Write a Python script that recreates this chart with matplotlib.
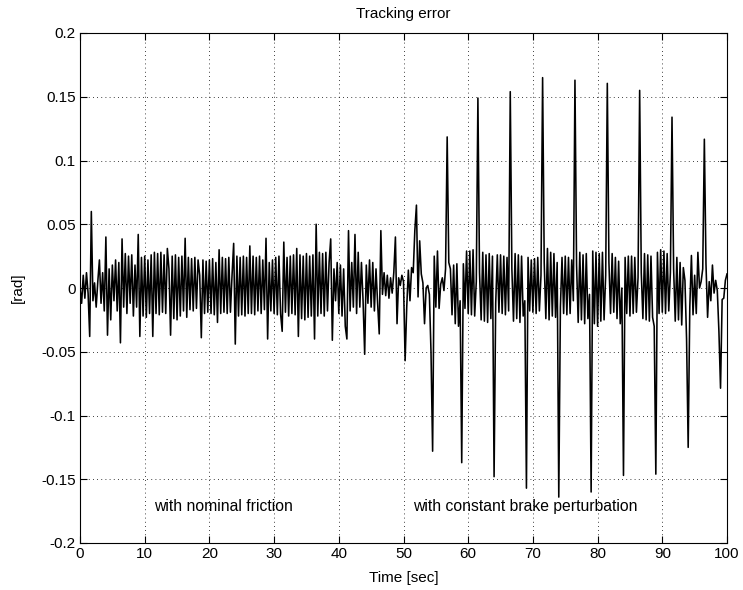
import numpy as np
import matplotlib
matplotlib.use("Agg")
import matplotlib.pyplot as plt
from matplotlib.ticker import FuncFormatter

# sample period of the recorded signal [sec]
dt = 0.25

# tracking error [rad], read block by block (5 s per row)
err_0_50 = [
    0.000, -0.012, 0.010, -0.008, 0.012, -0.004, -0.038, 0.060, -0.010, 0.004,
    -0.015, 0.005, 0.022, -0.012, 0.012, -0.018, 0.040, -0.037, 0.015, -0.025,
    0.018, -0.010, 0.022, -0.018, 0.020, -0.043, 0.0385, -0.015, 0.027, -0.020,
    0.025, -0.012, 0.026, -0.022, 0.018, -0.015, 0.042, -0.038, 0.024, -0.022,
    0.025, -0.023, 0.022, -0.020, 0.026, -0.038, 0.028, -0.020, 0.027, -0.021,
    0.028, -0.019, 0.026, -0.020, 0.031, 0.015, -0.037, 0.025, -0.024, 0.026,
    -0.025, 0.024, -0.022, 0.025, -0.018, 0.039, -0.023, 0.024, -0.017, 0.023,
    -0.018, 0.024, -0.016, 0.022, 0.010, -0.039, 0.022, -0.020, 0.021, -0.019,
    0.022, -0.020, 0.023, -0.021, 0.020, -0.027, 0.030, -0.020, 0.024, -0.019,
    0.023, -0.020, 0.024, -0.019, 0.010, 0.035, -0.044, 0.025, -0.022, 0.024,
    -0.021, 0.025, -0.022, 0.024, -0.020, 0.033, -0.020, 0.025, -0.021, 0.024,
    -0.018, 0.025, -0.020, 0.022, -0.017, 0.039, -0.040, 0.020, -0.018, 0.022,
    -0.020, 0.024, -0.021, 0.025, -0.020, -0.034, 0.036, -0.019, 0.024, -0.022,
    0.025, -0.020, 0.026, -0.021, 0.031, -0.038, 0.026, -0.024, 0.025, -0.025,
    0.027, -0.023, 0.025, -0.022, 0.026, -0.040, 0.050, -0.022, 0.028, -0.020,
    0.027, -0.022, 0.028, -0.018, 0.020, 0.0385, -0.041, 0.015, -0.010, 0.020,
    -0.020, 0.018, -0.022, 0.015, -0.030, -0.040, 0.045, -0.018, 0.020, -0.015,
    0.042, -0.020, 0.028, -0.015, 0.020, -0.010, -0.052, 0.018, -0.012, 0.022,
    -0.015, 0.020, -0.018, 0.015, -0.012, -0.036, 0.045, -0.005, 0.012, -0.006,
    0.010, -0.008, 0.008, -0.004, 0.012, 0.040, -0.028, 0.008, 0.002, 0.010,
]
err_50_100 = [
    0.005, -0.057, -0.015, 0.014, -0.010, 0.016, 0.012, 0.045, 0.065, -0.007,
    0.037, 0.011, 0.004, -0.028, 0.000, 0.002, -0.005, -0.050, -0.128, 0.025,
    -0.015, 0.029, -0.016, 0.003, 0.008, -0.002, 0.015, 0.1185, 0.020, 0.015,
    -0.021, 0.018, -0.028, 0.019, -0.030, -0.010, -0.137, 0.019, -0.016, 0.029,
    -0.020, 0.029, -0.021, 0.030, -0.022, 0.005, 0.149, 0.012, -0.025, 0.028,
    -0.026, 0.026, -0.027, 0.027, -0.024, 0.025, -0.148, -0.012, 0.026, -0.019,
    0.026, -0.020, 0.025, -0.021, 0.024, -0.018, 0.154, 0.015, -0.026, 0.027,
    -0.024, 0.026, -0.027, 0.025, -0.022, -0.010, -0.157, 0.024, -0.018, 0.022,
    -0.019, 0.023, -0.020, 0.024, -0.018, 0.010, 0.165, 0.020, -0.024, 0.031,
    -0.025, 0.028, -0.022, 0.027, -0.023, 0.020, -0.164, -0.015, 0.024, -0.020,
    0.025, -0.021, 0.024, -0.020, 0.022, -0.010, 0.163, 0.018, -0.027, 0.028,
    -0.025, 0.026, -0.028, 0.027, -0.024, -0.005, -0.160, 0.029, -0.028, 0.028,
    -0.030, 0.027, -0.026, 0.028, -0.025, 0.010, 0.1605, 0.020, -0.020, 0.027,
    -0.019, 0.024, -0.024, 0.021, -0.028, 0.000, -0.147, 0.024, -0.020, 0.025,
    -0.022, 0.025, -0.020, 0.024, -0.019, 0.008, 0.155, 0.012, -0.024, 0.027,
    -0.025, 0.026, -0.026, 0.025, -0.023, -0.030, -0.146, 0.028, -0.020, 0.030,
    -0.019, 0.029, -0.020, 0.027, -0.018, 0.012, 0.134, 0.015, -0.026, 0.024,
    -0.025, 0.020, -0.029, 0.016, 0.006, -0.040, -0.125, -0.015, 0.0255, -0.021,
    0.010, -0.020, 0.028, 0.000, 0.005, 0.015, 0.1167, 0.019, -0.023, 0.005,
    -0.010, 0.018, -0.004, 0.006, -0.002, -0.034, -0.0786, -0.009, -0.008, 0.006,
    0.011,
]

xticks = [0, 10, 20, 30, 40, 50, 60, 70, 80, 90, 100]
yticks = [-0.2, -0.15, -0.1, -0.05, 0, 0.05, 0.1, 0.15, 0.2]
title = "Tracking error"
xlabel = "Time [sec]"
ylabel = "[rad]"
annotations = [("with nominal friction", 22.2, -0.171),
               ("with constant brake perturbation", 68.8, -0.171)]

err = np.array(err_0_50 + err_50_100)
t = np.arange(len(err)) * dt

plt.rcParams['font.family'] = ['Liberation Sans', 'DejaVu Sans']
fig = plt.figure(figsize=(7.43, 5.90), dpi=100)
ax = fig.add_axes([80 / 743, 1 - 543 / 590, (727 - 80) / 743, (543 - 33) / 590])

ax.plot(t, err, color='black', linewidth=1.15)

ax.set_xlim(0, 100)
ax.set_ylim(-0.2, 0.2)
ax.set_xticks(xticks)
ax.set_yticks(yticks)
ax.yaxis.set_major_formatter(FuncFormatter(lambda v, p: f"{v:g}"))
ax.tick_params(direction='in', top=True, right=True, length=5, width=0.8,
               labelsize=11, colors='black', pad=3)
ax.grid(True, linestyle=(0, (1, 4)), color='black', linewidth=0.6)
for s in ax.spines.values():
    s.set_linewidth(0.8)

ax.set_title(title, fontsize=11, pad=11)
ax.set_xlabel(xlabel, fontsize=11, labelpad=7)
ax.set_ylabel(ylabel, fontsize=11, labelpad=12)
for txt, x, y in annotations:
    ax.text(x, y, txt, ha='center', va='center', fontsize=11.3)

fig.savefig("out.png", dpi=100)
